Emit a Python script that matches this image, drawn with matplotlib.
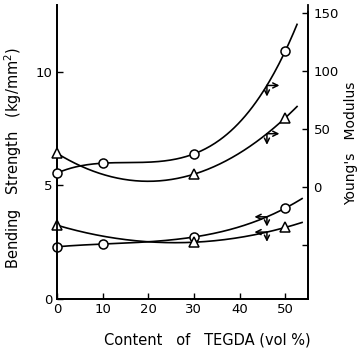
import numpy as np
import matplotlib.pyplot as plt

plt.rcParams['font.family'] = ['DejaVu Sans']

# TEGDA content (vol %)
tegda_o = [0, 10, 30, 50]
tegda_t = [0, 30, 50]

# Young's modulus, right axis
modulus_o = [12.0, 20.5, 28.5, 117.0]
modulus_t = [29.0, 11.0, 59.5]

# bending strength (kg/mm2), left axis
strength_o = [2.3, 2.42, 2.73, 4.0]
strength_t = [3.25, 2.5, 3.15]

x_ticks = [0, 10, 20, 30, 40, 50]
left_ticks = [0, 5, 10]
right_ticks = [-50, 0, 50, 100, 150]
right_labels = ['', '0', '50', '100', '150']

fig = plt.figure(figsize=(3.59, 3.50), dpi=100)
ax = fig.add_axes([57 / 359, 51 / 350, 251 / 359, 294 / 350])
ax2 = ax.twinx()

ax.set_xlim(0, 55)
ax.set_ylim(0, 12.95)
ax2.set_ylim(-96.6, 156.9)


def fit_curve(axis, xs, ys, x_end):
    deg = len(xs) - 1
    coef = np.polyfit(xs, ys, deg)
    xx = np.linspace(0, x_end, 200)
    axis.plot(xx, np.polyval(coef, xx), color='black', lw=1.2, zorder=2)
    return coef


c_mo = fit_curve(ax2, tegda_o, modulus_o, 52.6)
c_mt = fit_curve(ax2, tegda_t, modulus_t, 52.6)
c_so = fit_curve(ax, tegda_o, strength_o, 53.7)
c_st = fit_curve(ax, tegda_t, strength_t, 53.7)

mk = dict(color='black', mfc='white', mew=1.1, ls='none', zorder=3, clip_on=False)
ax2.plot(tegda_o, modulus_o, marker='o', ms=6.5, **mk)
ax2.plot(tegda_t, modulus_t, marker='^', ms=6.5, **mk)
ax.plot(tegda_o, strength_o, marker='o', ms=6.5, **mk)
ax.plot(tegda_t, strength_t, marker='^', ms=6.5, **mk)

# arrows pointing to the axis each pair belongs to
arr = dict(arrowstyle='<-', color='black', lw=1.1, shrinkA=0, shrinkB=0,
           mutation_scale=9)
xa = 46
for coef in (c_mo, c_mt):
    ya = np.polyval(coef, xa)
    ax2.annotate('', xy=(xa, ya), xytext=(9, 0), textcoords='offset points',
                 arrowprops=arr)
    ax2.annotate('', xy=(xa, ya), xytext=(0, -8), textcoords='offset points',
                 arrowprops=arr)
for coef in (c_so, c_st):
    ya = np.polyval(coef, xa)
    ax.annotate('', xy=(xa, ya), xytext=(-9, 0), textcoords='offset points',
                arrowprops=arr)
    ax.annotate('', xy=(xa, ya), xytext=(0, -7), textcoords='offset points',
                arrowprops=arr)

for a in (ax, ax2):
    a.spines['top'].set_visible(False)
    for s in a.spines.values():
        s.set_linewidth(1.3)
ax2.spines['right'].set_bounds(-96.6, 151)

ax.set_xticks(x_ticks)
ax.set_yticks(left_ticks)
ax2.set_yticks(right_ticks)
ax2.set_yticklabels(right_labels)
ax.tick_params(direction='in', length=4, width=1, labelsize=9.5, pad=3)
ax2.tick_params(direction='in', length=4, width=1, labelsize=9.5, pad=4)

ax.set_xlabel('Content   of   TEGDA (vol %)', fontsize=10.5)
ax.xaxis.set_label_coords(0.6, -0.115)
ax.set_ylabel('Bending   Strength   (kg/mm$^2$)', fontsize=10.5)
ax.yaxis.set_label_coords(-0.13, 0.48)
ax2.set_ylabel("Young's   Modulus", fontsize=10, rotation=90)
ax2.yaxis.set_label_coords(1.145, 0.53)

fig.savefig('out.png', dpi=100)
